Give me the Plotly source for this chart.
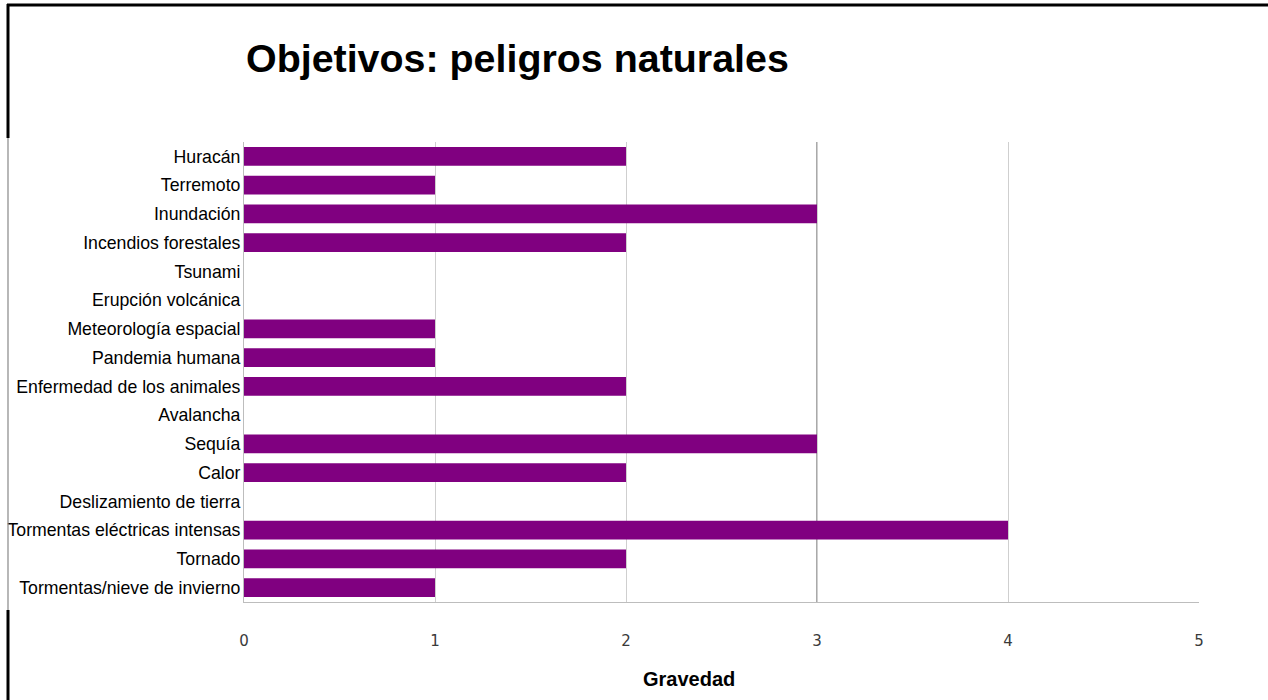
import plotly.graph_objects as go

categories = ["Huracán", "Terremoto", "Inundación", "Incendios forestales", "Tsunami",
              "Erupción volcánica", "Meteorología espacial", "Pandemia humana",
              "Enfermedad de los animales", "Avalancha", "Sequía", "Calor",
              "Deslizamiento de tierra", "Tormentas eléctricas intensas", "Tornado",
              "Tormentas/nieve de invierno"]
gravedad = [2, 1, 3, 2, 0, 0, 1, 1, 2, 0, 3, 2, 0, 4, 2, 1]
x_ticks = [0, 1, 2, 3, 4, 5]

W, H = 1268, 700
L, R, T, B = 244, 1199, 142, 602

def px(x):
    return (x - L) / (R - L)

def py(y):
    return (B - y) / (B - T)

fig = go.Figure(go.Bar(
    y=categories, x=gravedad, orientation="h",
    marker=dict(color="#800080", line=dict(width=0)),
    width=0.66,
))

fig.update_layout(
    width=W, height=H,
    margin=dict(l=L, r=W - R, t=T, b=H - B, autoexpand=False),
    paper_bgcolor="white", plot_bgcolor="white",
    showlegend=False,
    bargap=0.34,
    title=dict(text="<b>Objetivos: peligros naturales</b>", x=246 / W,
               xanchor="left", y=1 - 58 / H, yanchor="middle",
               font=dict(family="Liberation Sans, Arial", size=39.4, color="black")),
    xaxis=dict(range=[0, 5], tickvals=x_ticks, showgrid=True, gridcolor="#cfcfcf", gridwidth=1,
               showline=True, linecolor="#bdbdbd", linewidth=1, zeroline=False,
               ticks="", ticklabelstandoff=25,
               tickfont=dict(family="DejaVu Sans", size=15, color="#3a3a3a")),
    yaxis=dict(autorange="reversed", showgrid=False, showline=True, linecolor="#bdbdbd",
               linewidth=1, ticks="", ticklabelstandoff=-1,
               tickfont=dict(family="Liberation Sans, Arial", size=17.7, color="black")),
)

fig.add_vline(x=3, line=dict(color="#8c8c8c", width=1.5), layer="below")

fig.add_annotation(text="<b>Gravedad</b>", xref="paper", yref="paper", x=px(689), y=py(679),
                   xanchor="center", yanchor="middle", showarrow=False,
                   font=dict(family="Liberation Sans, Arial", size=20, color="black"))

# frame lines
fig.add_shape(type="line", xref="paper", yref="paper", x0=px(7), x1=px(1268), y0=py(5), y1=py(5),
              line=dict(color="black", width=3))
fig.add_shape(type="line", xref="paper", yref="paper", x0=px(8), x1=px(8), y0=py(4), y1=py(138),
              line=dict(color="black", width=3))
fig.add_shape(type="line", xref="paper", yref="paper", x0=px(8), x1=px(8), y0=py(138), y1=py(610),
              line=dict(color="#888888", width=1.2))
fig.add_shape(type="line", xref="paper", yref="paper", x0=px(8), x1=px(8), y0=py(610), y1=py(700),
              line=dict(color="black", width=3))

fig.write_html("out.html", config={"displayModeBar": False},
               post_script="document.body.style.margin='0';document.body.style.overflow='hidden';")
